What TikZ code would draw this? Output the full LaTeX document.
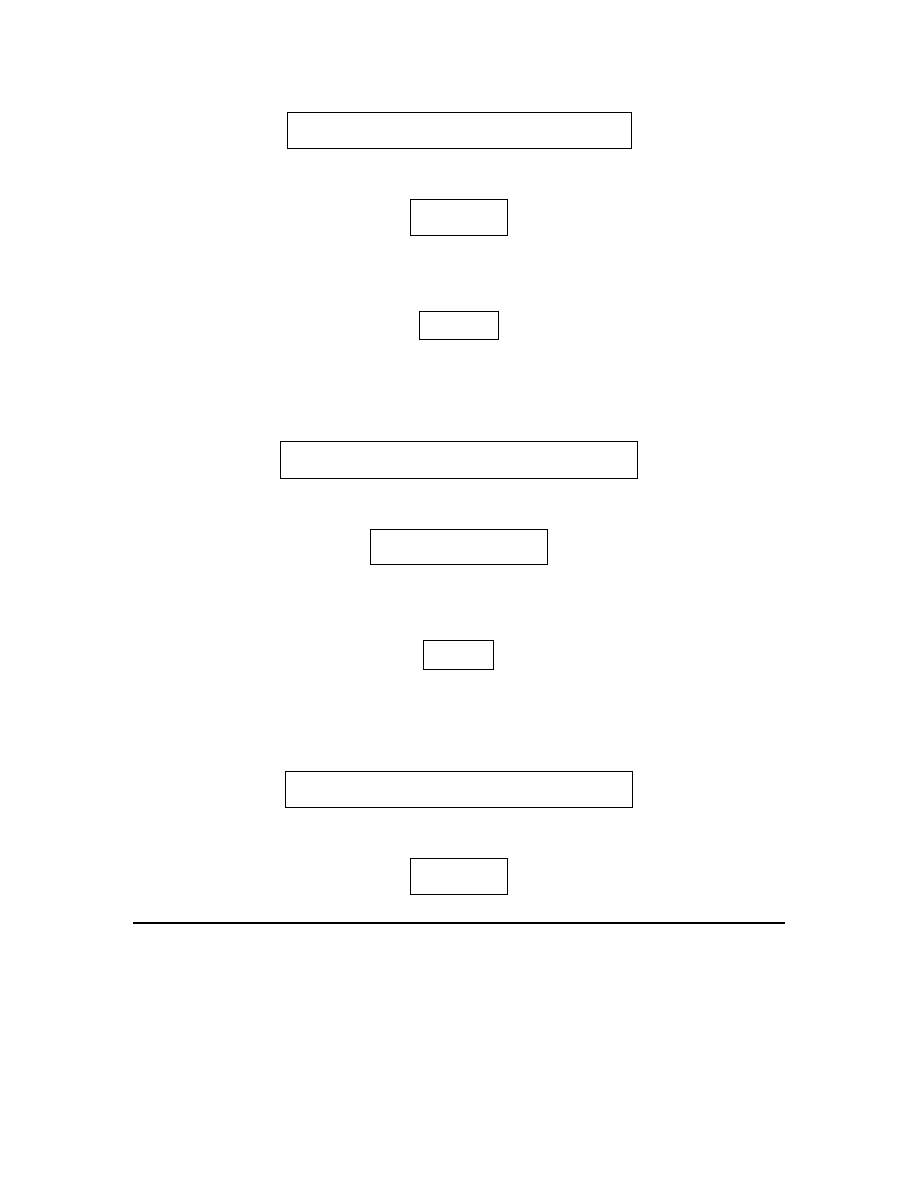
\documentclass[tikz,border=0pt]{standalone}
\begin{document}
\begin{tikzpicture}[x=1pt,y=-1pt,
  emptybox/.style={draw=black,line width=0.8pt,rectangle,inner sep=0pt,fill=none}]
\useasboundingbox (0,0) rectangle (918,1188);
\fill[white] (0,0) rectangle (918,1188);
% boxes: centres and sizes in pixel coordinates
\node[emptybox,minimum width=344pt,minimum height=36pt] (b1) at (459,130) {};
\node[emptybox,minimum width=97pt,minimum height=36pt] (b2) at (458.5,217) {};
\node[emptybox,minimum width=79pt,minimum height=28pt] (b3) at (458.5,325) {};
\node[emptybox,minimum width=357pt,minimum height=37pt] (b4) at (458.5,459.5) {};
\node[emptybox,minimum width=177pt,minimum height=35pt] (b5) at (458.5,546.5) {};
\node[emptybox,minimum width=70pt,minimum height=29pt] (b6) at (458,654.5) {};
\node[emptybox,minimum width=347pt,minimum height=36pt] (b7) at (459,789) {};
\node[emptybox,minimum width=97pt,minimum height=36pt] (b8) at (458.5,876) {};
\coordinate (l1) at (133,922.5);
\coordinate (l2) at (785,922.5);
\draw[line width=2pt] (l1) -- (l2);
\end{tikzpicture}
\end{document}
